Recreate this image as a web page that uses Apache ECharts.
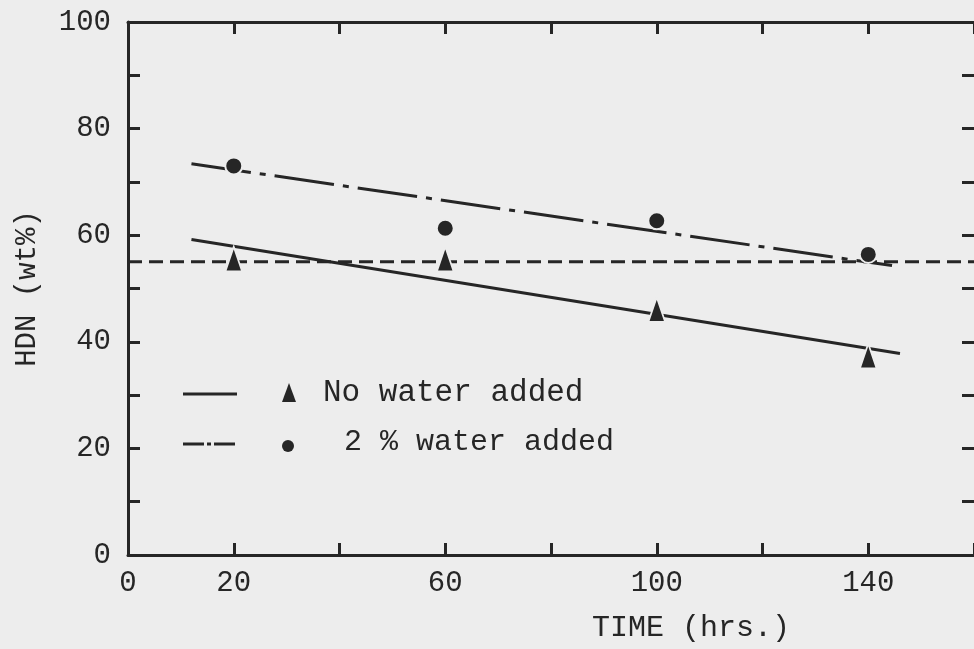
<!DOCTYPE html>
<html>
<head>
<meta charset="utf-8">
<script src="https://cdn.jsdelivr.net/npm/echarts@6/dist/echarts.min.js"></script>
<style>
html,body{margin:0;padding:0;background:#ededed;}
#chart{width:974px;height:649px;}
</style>
</head>
<body>
<div id="chart"></div>
<script>
// ---- data ----
var timeHours = [20, 60, 100, 140];
var noWater = [55.5, 55.5, 46, 37.3];
var water2 = [73, 61.3, 62.7, 56.4];
var fitNoWater = [[12, 59.2], [146, 37.8]];
var fitWater2 = [[12, 73.4], [144.5, 54.3]];
var referenceLevel = 55;
var xTickLabels = [0, 20, 60, 100, 140];
var yTickLabels = [0, 20, 40, 60, 80, 100];
var seriesNames = ['No water added', '2 % water added'];
var xName = 'TIME (hrs.)';
var yName = 'HDN (wt%)';

var ink = '#262626';
var bg = '#ededed';
var font = 'Liberation Mono';

function pairs(xs, ys) { return xs.map(function (x, i) { return [x, ys[i]]; }); }

var chart = echarts.init(document.getElementById('chart'), null, { renderer: 'canvas' });

function axisBase(extra) {
  return Object.assign({
    type: 'value',
    splitLine: { show: false },
    axisLine: { show: true, onZero: false, lineStyle: { color: ink, width: 3 } },
    axisTick: { show: true, inside: true, length: 12, lineStyle: { color: ink, width: 3 } }
  }, extra);
}

var option = {
  backgroundColor: bg,
  animation: false,
  grid: { left: 128, top: 22, width: 850, height: 533, containLabel: false },
  xAxis: [
    axisBase({
      position: 'bottom', min: 0, max: 160, interval: 20,
      axisLabel: { customValues: xTickLabels, margin: 14, fontSize: 29, fontFamily: font, color: ink }
    }),
    axisBase({
      position: 'top', min: 0, max: 160, interval: 20,
      axisLabel: { show: false }
    })
  ],
  yAxis: [
    axisBase({
      position: 'left', min: 0, max: 100, interval: 10,
      name: yName, nameLocation: 'middle', nameGap: 86, nameRotate: 90,
      nameTextStyle: { fontSize: 29, fontFamily: font, color: ink },
      axisLabel: { customValues: yTickLabels, margin: 17, fontSize: 29, fontFamily: font, color: ink }
    }),
    axisBase({
      position: 'right', min: 0, max: 100, interval: 10,
      axisLine: { show: false, onZero: false },
      axisLabel: { show: false }
    })
  ],
  series: [
    {
      name: 'reference', type: 'line', xAxisIndex: 0, yAxisIndex: 0,
      data: [[0, referenceLevel], [160, referenceLevel]],
      showSymbol: false, silent: true, z: 2,
      lineStyle: { color: ink, width: 3, type: [14, 7] }
    },
    {
      name: seriesNames[0] + ' fit', type: 'line',
      data: fitNoWater, showSymbol: false, z: 3,
      lineStyle: { color: ink, width: 3, type: 'solid' }
    },
    {
      name: seriesNames[1] + ' fit', type: 'line',
      data: fitWater2, showSymbol: false, z: 3,
      lineStyle: { color: ink, width: 3, type: [60, 9, 6, 9] }
    },
    {
      name: seriesNames[0], type: 'scatter', z: 5,
      data: pairs(timeHours, noWater),
      symbol: 'triangle', symbolSize: [17, 25],
      itemStyle: { color: ink, borderColor: bg, borderWidth: 2, opacity: 1 }
    },
    {
      name: seriesNames[1], type: 'scatter', z: 5,
      data: pairs(timeHours, water2),
      symbol: 'circle', symbolSize: 17,
      itemStyle: { color: ink, borderColor: bg, borderWidth: 2, opacity: 1 }
    }
  ],
  graphic: [
    { type: 'line', shape: { x1: 183, y1: 394, x2: 237, y2: 394 }, style: { stroke: ink, lineWidth: 3 } },
    { type: 'polygon', shape: { points: [[289, 383], [282, 402], [296, 402]] }, style: { fill: ink } },
    { type: 'text', x: 323, y: 393, style: { text: seriesNames[0], font: '31px "Liberation Mono"', fill: ink, verticalAlign: 'middle' } },
    { type: 'line', shape: { x1: 183, y1: 444, x2: 237, y2: 444 }, style: { stroke: ink, lineWidth: 3, lineDash: [21, 3, 4, 3] } },
    { type: 'circle', shape: { cx: 288, cy: 446, r: 6 }, style: { fill: ink } },
    { type: 'text', x: 344, y: 442, style: { text: seriesNames[1], font: '30px "Liberation Mono"', fill: ink, verticalAlign: 'middle' } },
    { type: 'text', x: 691, y: 628, style: { text: xName, font: '30px "Liberation Mono"', fill: ink, align: 'center', verticalAlign: 'middle' } }
  ]
};
chart.setOption(option);
</script>
</body>
</html>
